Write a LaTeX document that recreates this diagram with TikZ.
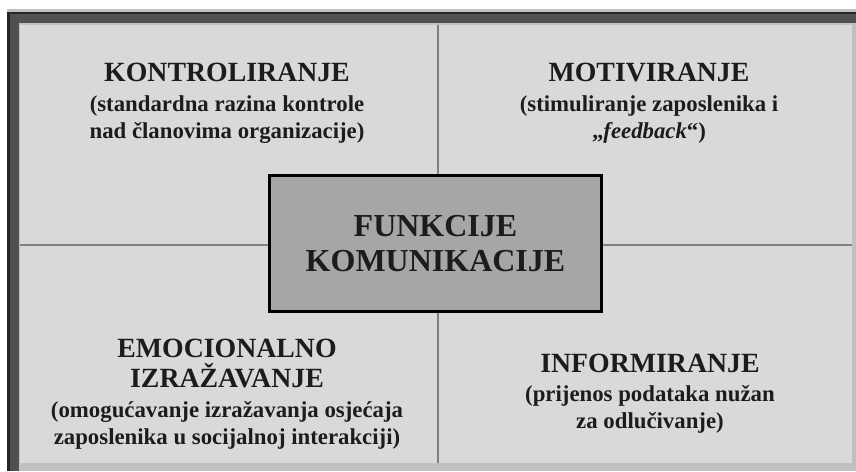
\documentclass[tikz,border=0pt]{standalone}
\usepackage{fontspec}
\setmainfont{Liberation Serif}
\usetikzlibrary{positioning}

\definecolor{panel}{HTML}{D9D9D9}
\definecolor{boxfill}{HTML}{A6A6A6}
\definecolor{framedark}{HTML}{505050}
\definecolor{framelight}{HTML}{C0C0C0}
\definecolor{rule}{HTML}{808080}
\definecolor{ink}{HTML}{1C1C1C}

\tikzset{
  quadtitle/.style={font=\bfseries\fontsize{27.8}{30}\selectfont, text=ink, align=center, inner sep=0pt},
  quadnote/.style={font=\bfseries\fontsize{22.8}{27}\selectfont, text=ink, align=center, inner sep=0pt},
  divider/.style={draw=rule, line width=2pt},
  centrebox/.style={draw=black, line width=3pt, fill=boxfill, minimum width=332pt, minimum height=136pt,
    font=\bfseries\fontsize{32}{35}\selectfont, text=ink, align=center}
}

\begin{document}
\begin{tikzpicture}[x=1pt,y=-1pt]

  \def \fw {856}
  \def \fh {471}

  \useasboundingbox (0,0) rectangle (\fw,\fh);
  \fill[white] (0,0) rectangle (\fw,\fh);

  % frame, dark on top and left
  \fill[framelight] (7,9) rectangle (\fw,\fh);
  \fill[framedark] (7,12) rectangle (\fw,23);
  \fill[framedark] (7,12) rectangle (19,\fh);
  \fill[black!85] (7,12) rectangle (\fw,14);
  \fill[black!85] (7,12) rectangle (10,\fh);
  \fill[panel] (20,25) rectangle (852,463);

  \node[centrebox] (box) at (435.5,243.5) {FUNKCIJE\\KOMUNIKACIJE};

  \coordinate (top) at (438,25);
  \coordinate (bottom) at (438,463);
  \coordinate (left) at (20,245);
  \coordinate (right) at (852,245);

  \foreach \c/\a in {top/north,bottom/south}
    \draw[divider] (\c) -- (\c |- box.\a);
  \foreach \c/\a in {left/west,right/east}
    \draw[divider] (\c) -- (\c -| box.\a);

  \node[quadtitle] (kontrol) at (227,72.5) {KONTROLIRANJE};
  \node[quadnote] (kontrolnote) at (227,119.5) {(standardna razina kontrole\\nad članovima organizacije)};

  \node[quadtitle] (motiv) at (649,72.5) {MOTIVIRANJE};
  \node[quadnote] (motivnote) at (649,119.5) {(stimuliranje zaposlenika i\\„\textit{feedback}“)};

  \node[quadtitle] (emoc) at (227,363.5) {EMOCIONALNO\\IZRAŽAVANJE};
  \node[quadnote] (emocnote) at (227,425) {(omogućavanje izražavanja osjećaja\\zaposlenika u socijalnoj interakciji)};

  \node[quadtitle] (inform) at (650,363.5) {INFORMIRANJE};
  \node[quadnote] (informnote) at (650,409) {(prijenos podataka nužan\\za odlučivanje)};

\end{tikzpicture}
\end{document}
